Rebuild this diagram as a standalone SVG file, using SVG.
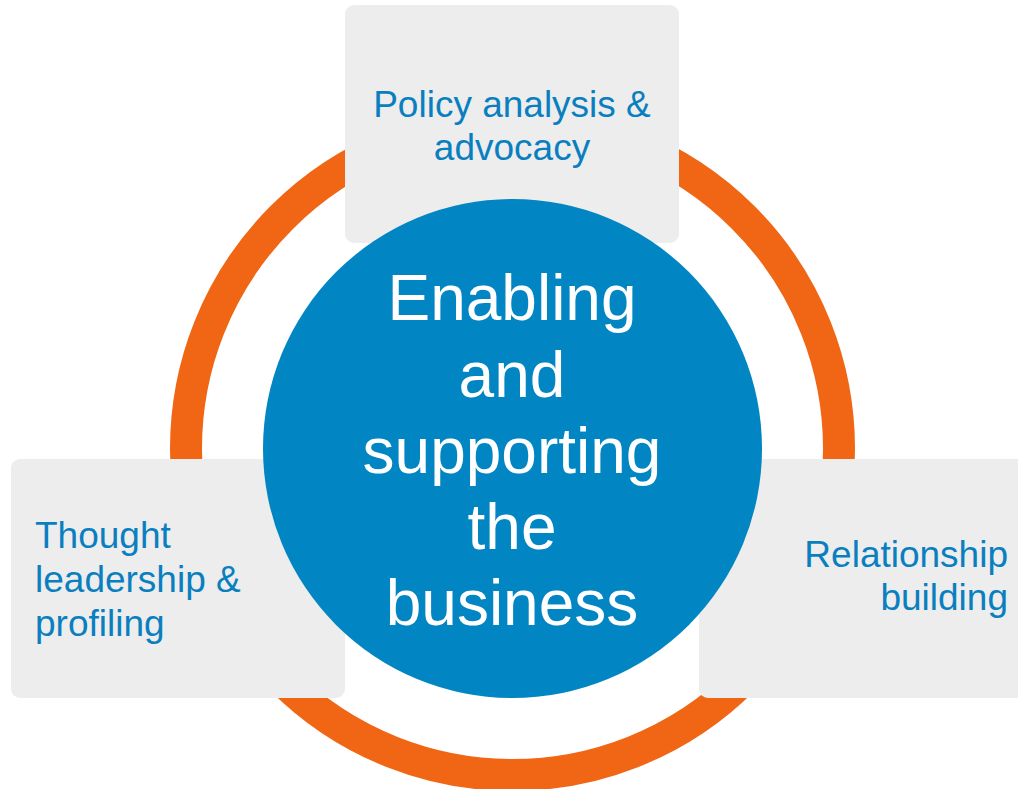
<svg xmlns="http://www.w3.org/2000/svg" width="1018" height="789" viewBox="0 0 1018 789">
<style>
.box{fill:#EDEDED}
.lbl{font-family:"Liberation Sans",Arial,sans-serif;font-size:37px;fill:#0A7FC0}
.ctr{font-family:"Liberation Sans",Arial,sans-serif;font-size:64px;fill:#FFFFFF;text-anchor:middle}
</style>
<rect width="1018" height="789" fill="#FFFFFF"/>
<g id="ring">
<circle cx="512.5" cy="448.5" r="326.5" fill="none" stroke="#F06614" stroke-width="32"/>
</g>
<g id="node-policy">
<rect class="box" x="345" y="5" width="334" height="238" rx="9"/>
<text class="lbl" text-anchor="middle"><tspan x="512" y="117">Policy analysis &amp;</tspan><tspan x="512" y="160">advocacy</tspan></text>
</g>
<g id="node-thought">
<rect class="box" x="11" y="459" width="334" height="239" rx="9"/>
<text class="lbl"><tspan x="35" y="548">Thought</tspan><tspan x="35" y="592">leadership &amp;</tspan><tspan x="35" y="636">profiling</tspan></text>
</g>
<g id="node-relationship">
<rect class="box" x="699" y="459" width="340" height="239" rx="9"/>
<text class="lbl" text-anchor="end"><tspan x="1008" y="567">Relationship</tspan><tspan x="1008" y="610">building</tspan></text>
</g>
<g id="node-center">
<circle cx="512.5" cy="448.5" r="249.5" fill="#0286C3"/>
<text class="ctr"><tspan x="512" y="320">Enabling</tspan><tspan x="512" y="396.5">and</tspan><tspan x="512" y="473">supporting</tspan><tspan x="512" y="549">the</tspan><tspan x="512" y="625">business</tspan></text>
</g>
<g id="connectors"></g>
</svg>
